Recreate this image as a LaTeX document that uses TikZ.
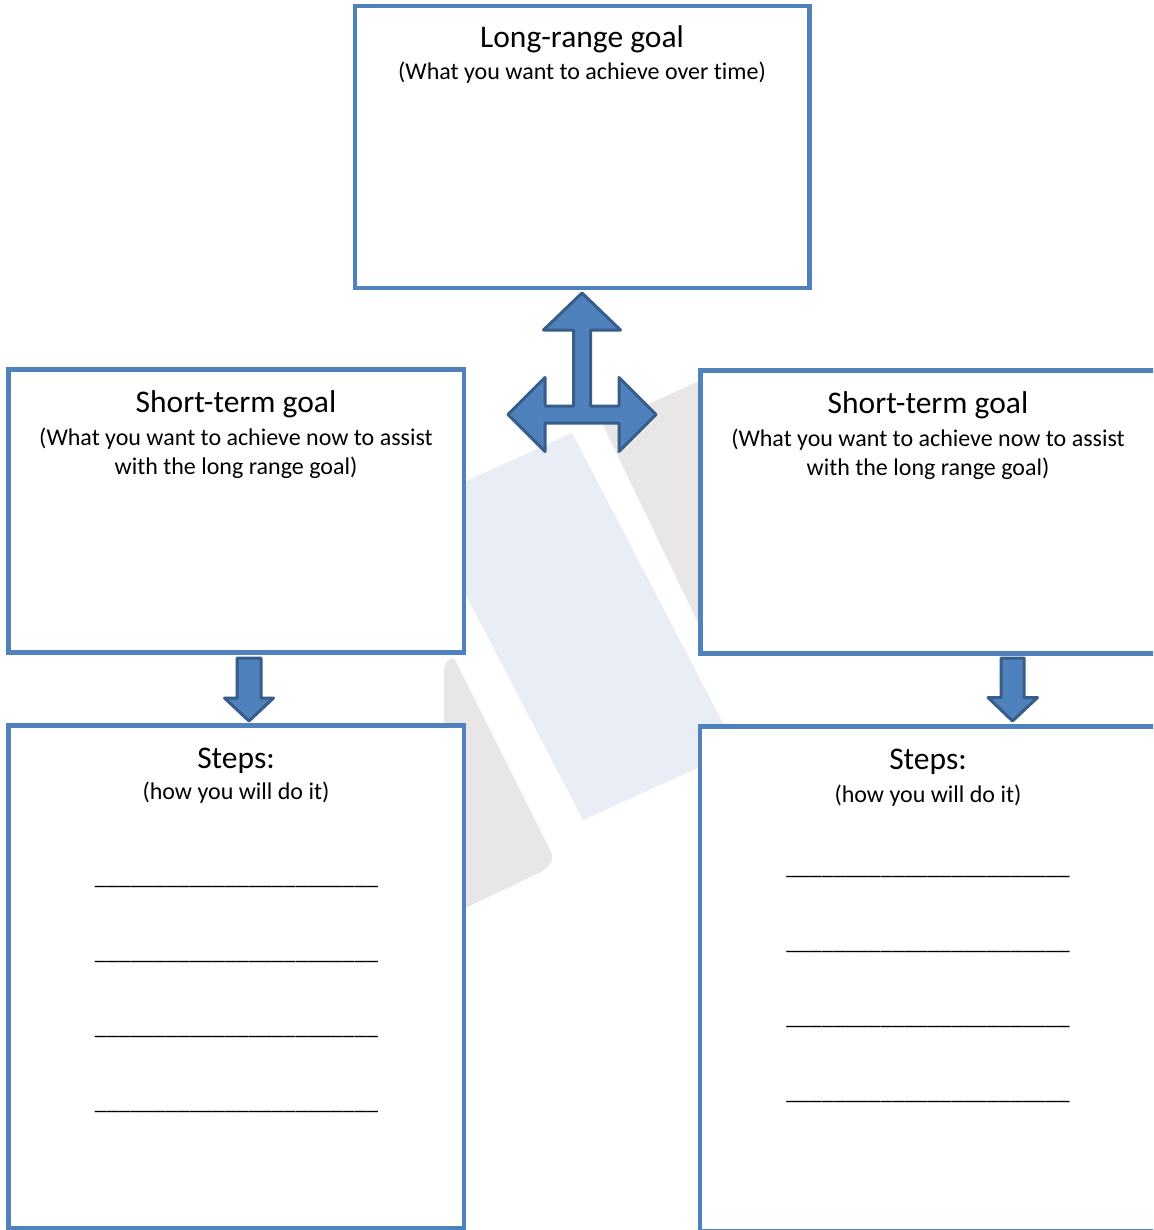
\documentclass[tikz,border=0pt]{standalone}
\usepackage{fontspec}
\setmainfont{Carlito}[Ligatures=NoCommon]
\definecolor{boxblue}{HTML}{4F81BD}
\definecolor{arrowline}{HTML}{385D8A}
\definecolor{wmblue}{HTML}{E9EEF6}
\definecolor{wmgray}{HTML}{E8E6E6}
\tikzset{
  goalbox/.style={draw=boxblue, line width=4.5pt, fill=white, rectangle, inner sep=0pt, outer sep=0pt, anchor=north west},
  titletext/.style={anchor=base, inner sep=0pt, font=\fontsize{31.5}{36}\selectfont},
  subtext/.style={anchor=base, inner sep=0pt, font=\fontsize{24}{28.5}\selectfont},
  linetext/.style={anchor=base, inner sep=0pt, font=\fontsize{23.7}{28}\selectfont},
  blockarrow/.style={fill=boxblue, draw=arrowline, line width=3pt, line join=round},
}
\begin{document}
\begin{tikzpicture}[x=1pt, y=-1pt]
\useasboundingbox (0,0) rectangle (1153,1230);
\clip (0,0) rectangle (1153,1230);
\fill[white] (0,0) rectangle (1153,1230);
% watermark
\fill[wmgray] (603,425) -- (712,375) -- (712,652) -- cycle;
\fill[wmgray, rounded corners=6pt] (444,920) -- (444,664) -- (453,656) -- (554,858) -- (545,870) -- (444,918) -- cycle;
\fill[wmblue] (572,433) -- (737,750) -- (583,820) -- (418,503) -- cycle;
% boxes
\node[goalbox, minimum width=454.5pt, minimum height=282.2pt] (longbox) at (355,5.8) {};
\node[goalbox, minimum width=455.3pt, minimum height=283pt] (shortL) at (8.7,369.5) {};
\node[goalbox, minimum width=480pt, minimum height=283pt] (shortR) at (700.5,370.5) {};
\node[goalbox, minimum width=455.3pt, minimum height=502.5pt] (stepsL) at (8.7,725.5) {};
\node[goalbox, minimum width=480pt, minimum height=504.5pt] (stepsR) at (700,726.5) {};
% texts
\node[titletext] (tlong) at (582,48) {Long-range goal};
\node[subtext] (slong) at (582,80) {(What you want to achieve over t\kern0pt ime)};
\node[titletext] (tshortL) at (236,412.5) {Short-term goal};
\node[subtext] (sshortL1) at (236,445.5) {(What you want to achieve now to assist};
\node[subtext] (sshortL2) at (236,474) {with the long range goal)};
\node[titletext] (tshortR) at (928,413.5) {Short-term goal};
\node[subtext] (sshortR1) at (928,446.5) {(What you want to achieve now to assist};
\node[subtext] (sshortR2) at (928,475) {with the long range goal)};
\node[titletext] (tstepsL) at (236,768) {Steps:};
\node[subtext] (sstepsL) at (236,799) {(how you will do it)};
\node[titletext] (tstepsR) at (928,769) {Steps:};
\node[subtext] (sstepsR) at (928,802) {(how you will do it)};
\foreach \yy/\nm in {884/a,959/b,1034/c,1109/d} {
  \node[linetext] (lineL\nm) at (236.5,\yy) {\_\_\_\_\_\_\_\_\_\_\_\_\_\_\_\_\_\_\_\_\_\_\_\_};
}
\foreach \yy/\nm in {874/a,949/b,1024/c,1099/d} {
  \node[linetext] (lineR\nm) at (928,\yy) {\_\_\_\_\_\_\_\_\_\_\_\_\_\_\_\_\_\_\_\_\_\_\_\_};
}
% three-way arrow
\draw[blockarrow] (582,293) -- (620.5,330) -- (590.5,330) -- (590.5,406) -- (619,406) -- (619,377.5)
  -- (656,414.5) -- (619,451.5) -- (619,423) -- (545,423) -- (545,451.5) -- (508,414.5)
  -- (545,377.5) -- (545,406) -- (573.5,406) -- (573.5,330) -- (543.5,330) -- cycle;
% down arrows
\draw[blockarrow] (237,658) -- (261,658) -- (261,698) -- (273.5,698) -- (249,721) -- (224.5,698) -- (237,698) -- cycle;
\draw[blockarrow] (1001,658) -- (1024,658) -- (1024,697.5) -- (1037.5,697.5) -- (1012.5,721) -- (988,697.5) -- (1001,697.5) -- cycle;
\end{tikzpicture}
\end{document}
